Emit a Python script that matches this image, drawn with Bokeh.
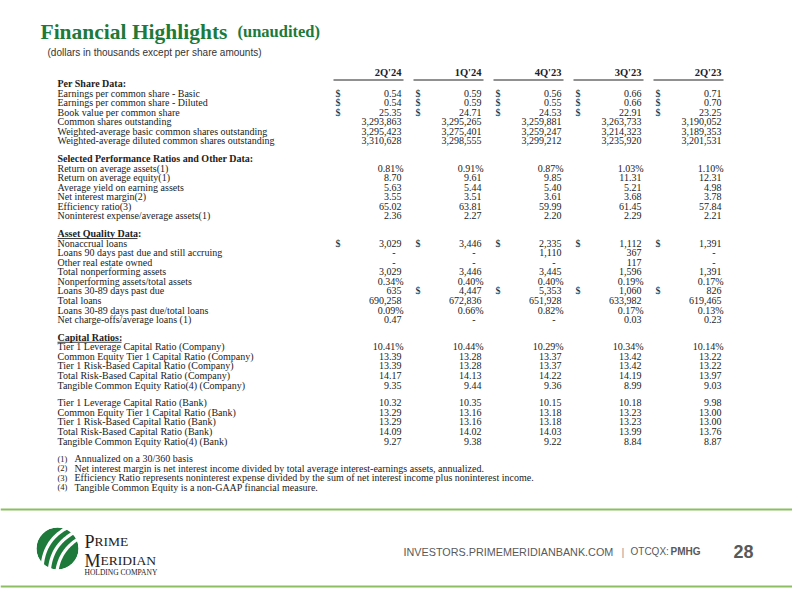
import numpy as np
from bokeh.plotting import figure
from bokeh.models import ColumnDataSource, Range1d
from bokeh.core.properties import value
from bokeh.embed import file_html
from bokeh.resources import INLINE

# ---------------- data ----------------
title = "Financial Highlights"
title_note = "(unaudited)"
subtitle = "(dollars in thousands except per share amounts)"
quarters = ["2Q'24", "1Q'24", "4Q'23", "3Q'23", "2Q'23"]

section_titles = ["Per Share Data:", "Selected Performance Ratios and Other Data:",
                  "Asset Quality Data:", "Capital Ratios:"]
section_underlined = [False, False, True, True]

row_labels = [
    "Earnings per common share - Basic",
    "Earnings per common share - Diluted",
    "Book value per common share",
    "Common shares outstanding",
    "Weighted-average basic common shares outstanding",
    "Weighted-average diluted common shares outstanding",
    "Return on average assets(1)",
    "Return on average equity(1)",
    "Average yield on earning assets",
    "Net interest margin(2)",
    "Efficiency ratio(3)",
    "Noninterest expense/average assets(1)",
    "Nonaccrual loans",
    "Loans 90 days past due and still accruing",
    "Other real estate owned",
    "Total nonperforming assets",
    "Nonperforming assets/total assets",
    "Loans 30-89 days past due",
    "Total loans",
    "Loans 30-89 days past due/total loans",
    "Net charge-offs/average loans (1)",
    "Tier 1 Leverage Capital Ratio (Company)",
    "Common Equity Tier 1 Capital Ratio (Company)",
    "Tier 1 Risk-Based Capital Ratio (Company)",
    "Total Risk-Based Capital Ratio (Company)",
    "Tangible Common Equity Ratio(4) (Company)",
    "Tier 1 Leverage Capital Ratio (Bank)",
    "Common Equity Tier 1 Capital Ratio (Bank)",
    "Tier 1 Risk-Based Capital Ratio (Bank)",
    "Total Risk-Based Capital Ratio (Bank)",
    "Tangible Common Equity Ratio(4) (Bank)",
]
row_section = [0] * 6 + [1] * 6 + [2] * 9 + [3] * 10
# formats: "d2" decimals, "int" thousands, "pct" percent with sign
row_format = ["d2", "d2", "d2", "int", "int", "int",
              "pct", "d2", "d2", "d2", "d2", "d2",
              "int", "int", "int", "int", "pct", "int", "int", "pct", "d2",
              "pct", "d2", "d2", "d2", "d2",
              "d2", "d2", "d2", "d2", "d2"]
# quarters (column indices) showing a dollar sign on each row
row_dollar_cols = [[0, 1, 2, 3, 4]] * 3 + [[]] * 9 + [[0, 1, 2, 3, 4]] + [[]] * 4 + \
                  [[1, 2, 3, 4]] + [[]] * 13

q2_24 = [0.54, 0.54, 25.35, 3293863, 3295423, 3310628,
         0.81, 8.70, 5.63, 3.55, 65.02, 2.36,
         3029, None, None, 3029, 0.34, 635, 690258, 0.09, 0.47,
         10.41, 13.39, 13.39, 14.17, 9.35,
         10.32, 13.29, 13.29, 14.09, 9.27]
q1_24 = [0.59, 0.59, 24.71, 3295265, 3275401, 3298555,
         0.91, 9.61, 5.44, 3.51, 63.81, 2.27,
         3446, None, None, 3446, 0.40, 4447, 672836, 0.66, None,
         10.44, 13.28, 13.28, 14.13, 9.44,
         10.35, 13.16, 13.16, 14.02, 9.38]
q4_23 = [0.56, 0.55, 24.53, 3259881, 3259247, 3299212,
         0.87, 9.85, 5.40, 3.61, 59.99, 2.20,
         2335, 1110, None, 3445, 0.40, 5353, 651928, 0.82, None,
         10.29, 13.37, 13.37, 14.22, 9.36,
         10.15, 13.18, 13.18, 14.03, 9.22]
q3_23 = [0.66, 0.66, 22.91, 3263733, 3214323, 3235920,
         1.03, 11.31, 5.21, 3.68, 61.45, 2.29,
         1112, 367, 117, 1596, 0.19, 1060, 633982, 0.17, 0.03,
         10.34, 13.42, 13.42, 14.19, 8.99,
         10.18, 13.23, 13.23, 13.99, 8.84]
q2_23 = [0.71, 0.70, 23.25, 3190052, 3189353, 3201531,
         1.10, 12.31, 4.98, 3.78, 57.84, 2.21,
         1391, None, None, 1391, 0.17, 826, 619465, 0.13, 0.23,
         10.14, 13.22, 13.22, 13.97, 9.03,
         9.98, 13.00, 13.00, 13.76, 8.87]

footnote_marks = ["(1)", "(2)", "(3)", "(4)"]
footnotes = [
    "Annualized on a 30/360 basis",
    "Net interest margin is net interest income divided by total average interest-earnings assets, annualized.",
    "Efficiency Ratio represents noninterest expense divided by the sum of net interest income plus noninterest income.",
    "Tangible Common Equity is a non-GAAP financial measure.",
]
company_words = ["PRIME", "MERIDIAN"]
company_sub = "HOLDING COMPANY"
site = "INVESTORS.PRIMEMERIDIANBANK.COM"
ticker_label = "OTCQX:"
ticker = "PMHG"
page_no = "28"

columns = [q2_24, q1_24, q4_23, q3_23, q2_23]

# ---------------- style ----------------
SERIF = value("Liberation Serif")
SANS = value("Liberation Sans")
GREEN = "#1d7a3a"
LINE_GREEN = "#8cbf62"
INK = "#222222"
GRAY = "#595959"

p = figure(width=792, height=592, x_range=Range1d(0, 792), y_range=Range1d(592, 0),
           output_backend="svg", toolbar_location=None, min_border=0)
p.axis.visible = False
p.grid.visible = False
p.outline_line_color = None
p.background_fill_color = "white"
p.border_fill_color = "white"


def txt(x, y, t, size, font=SERIF, color=INK, align="left", style="normal",
        baseline="middle"):
    src = ColumnDataSource(dict(x=list(x), y=list(y), t=list(t)))
    p.text(x="x", y="y", text="t", source=src, text_font=font,
           text_font_size=size, text_color=color, text_align=align,
           text_baseline=baseline, text_font_style=style)


# title block
txt([40], [31], [title], "21.5px", color=GREEN, style="bold", baseline="alphabetic")
txt([237], [31], [title_note], "16.5px", color=GREEN, style="bold", baseline="alphabetic")
txt([47], [52], [subtitle], "10px", font=SANS, color="#333333")

# column layout
col_right = [401, 481, 561, 641, 721]
dollar_x = [335, 415, 495, 575, 655]
header_y = 72
txt(col_right, [header_y] * 5, quarters, "10.5px", align="right", style="bold")
for cr in col_right:
    p.segment(x0=[cr - 68], y0=[79.5], x1=[cr + 2], y1=[79.5], line_color=INK, line_width=1)

label_x = 57
rh = 9.57
gap = 17.6


def fmt(v, f):
    if v is None:
        return None
    if f == "int":
        return f"{v:,.0f}"
    if f == "pct":
        return f"{v:.2f}%"
    return f"{v:.2f}"


lab_x, lab_y, lab_t = [], [], []
sec_x, sec_y, sec_t = [], [], []
val_x, val_y, val_t = [], [], []
dol_x, dol_y = [], []
y = 83
prev_sec = -1
cap_count = 0
for i, lab in enumerate(row_labels):
    s = row_section[i]
    if s != prev_sec:
        if prev_sec >= 0:
            y += gap - rh
        sec_x.append(label_x)
        sec_y.append(y)
        sec_t.append(section_titles[s])
        if section_underlined[s]:
            w = {2: 80, 3: 64}[s]
            p.segment(x0=[label_x], y0=[y + 5], x1=[label_x + w], y1=[y + 5],
                      line_color=INK, line_width=0.9)
        prev_sec = s
        y += rh
    if s == 3:
        if cap_count == 5:
            y += gap - rh
        cap_count += 1
    lab_x.append(label_x)
    lab_y.append(y)
    lab_t.append(lab)
    for c in range(5):
        t = fmt(columns[c][i], row_format[i])
        if t is None:
            val_x.append(col_right[c] - 6)
            val_t.append("-")
        elif t.endswith("%"):
            val_x.append(col_right[c] + 2)
            val_t.append(t)
        else:
            val_x.append(col_right[c])
            val_t.append(t)
        val_y.append(y)
        if c in row_dollar_cols[i]:
            dol_x.append(dollar_x[c])
            dol_y.append(y)
    y += rh

txt(sec_x, sec_y, sec_t, "10px", style="bold")
txt(lab_x, lab_y, lab_t, "10px")
txt(val_x, val_y, val_t, "10px", align="right")
txt(dol_x, dol_y, ["$"] * len(dol_x), "10px")

# footnotes
fy = [y + gap - rh + k * rh for k in range(len(footnotes))]
txt([57] * 4, fy, footnote_marks, "8.5px")
txt([74] * 4, fy, footnotes, "10px")

# footer rules
p.segment(x0=[0], y0=[509], x1=[792], y1=[509], line_color=LINE_GREEN, line_width=2)
p.segment(x0=[0], y0=[586], x1=[792], y1=[586], line_color=LINE_GREEN, line_width=2)

# logo mark: green disc cut by curved white gaps
cx, cy, R = 57, 548, 21
p.circle(x=[cx], y=[cy], radius=R, fill_color=GREEN, line_color=None)
d = np.array([0.55, -0.835])
n = np.array([0.835, 0.55])
tt = np.linspace(-24, 24, 60)
for u in (-9.5, -1.0, 7.5):
    pts = np.array([cx, cy]) + np.outer(tt, d) + np.outer(u + 0.012 * tt ** 2, n)
    p.line(pts[:, 0], pts[:, 1], line_color="white", line_width=3.2)
p.circle(x=[cx], y=[cy], radius=R + 6, fill_color=None, line_color="white", line_width=12)

# company name: large initial + smaller capitals
txt([84], [541], [company_words[0][0]], "18px", baseline="alphabetic")
txt([94], [541], [company_words[0][1:]], "13.5px", baseline="alphabetic")
txt([84], [560], [company_words[1][0]], "18px", baseline="alphabetic")
txt([100], [560], [company_words[1][1:]], "13.5px", baseline="alphabetic")
txt([84], [572], [company_sub], "7.5px", baseline="alphabetic")

txt([403], [551], [site], "10.8px", font=SANS, color=GRAY)
txt([621], [551], ["|"], "11px", font=SANS, color="#999999")
txt([630], [551], [ticker_label], "10px", font=SANS, color=GRAY)
txt([670], [551], [ticker], "10px", font=SANS, color=GRAY, style="bold")
txt([733], [551], [page_no], "18px", font=SANS, color=GRAY, style="bold")

open("out.html", "w").write(file_html(p, INLINE))
